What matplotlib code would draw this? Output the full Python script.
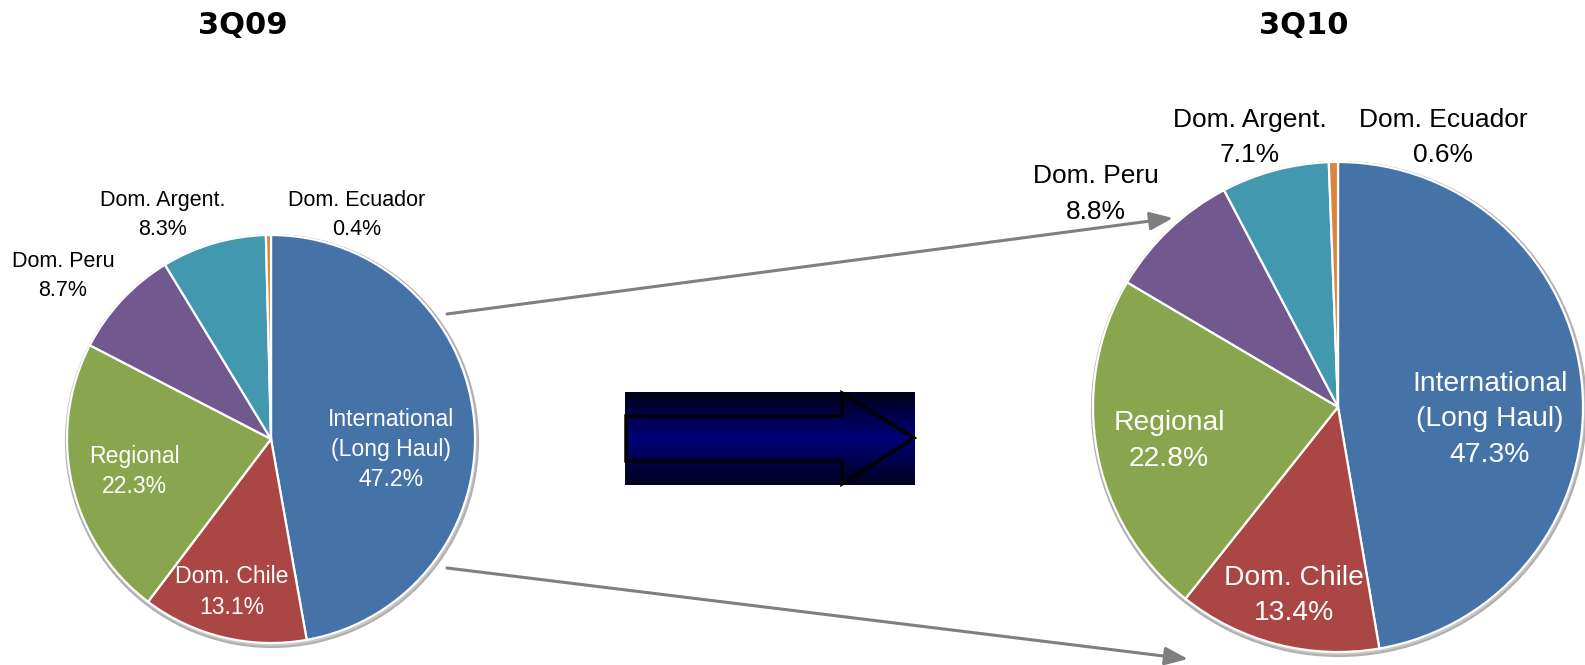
import numpy as np
import matplotlib
matplotlib.use("Agg")
import matplotlib.pyplot as plt
from matplotlib.patches import Circle, Polygon
from matplotlib.colors import LinearSegmentedColormap

# datos
segments = ["International\n(Long Haul)", "Dom. Chile", "Regional",
            "Dom. Peru", "Dom. Argent.", "Dom. Ecuador"]
share_3q09 = [47.2, 13.1, 22.3, 8.7, 8.3, 0.4]
share_3q10 = [47.3, 13.4, 22.8, 8.8, 7.1, 0.6]
titles = ["3Q09", "3Q10"]

COLORS = ["#4572A7", "#AA4643", "#89A54E", "#71588F", "#4198AF", "#DB843D"]
TXT_COLORS = ["white", "white", "white", "black", "black", "black"]

W, H = 1585, 665

# posicion de etiquetas en radios (dx, dy) relativo al centro
LBL_LEFT = [(0.59, -0.05), (-0.19, -0.75), (-0.67, -0.16),
            (-1.02, 0.80), (-0.53, 1.10), (0.42, 1.10)]
LBL_RIGHT = [(0.62, -0.05), (-0.18, -0.77), (-0.69, -0.14),
             (-0.99, 0.87), (-0.36, 1.10), (0.43, 1.10)]


def Y(y):
    return H - y


def draw_pie(ax, values, cx, cy, r, offsets, fs_in, fs_out, ls_in, ls_out):
    # sombra gris
    ax.add_patch(Circle((cx + 1, Y(cy) - 2), r + 2, facecolor="#c8c8c8",
                        edgecolor="#b0b0b0", lw=1.5, zorder=0))
    ax.pie(values, center=(cx, Y(cy)), radius=r, startangle=90,
           counterclock=False, colors=COLORS,
           wedgeprops=dict(edgecolor="white", linewidth=1.6))
    for i, (name, v) in enumerate(zip(segments, values)):
        dx, dy = offsets[i]
        inside = i < 3
        ax.text(cx + dx * r, Y(cy) + dy * r, f"{name}\n{v:.1f}%",
                ha="center", va="center", color=TXT_COLORS[i],
                fontsize=fs_in if inside else fs_out,
                linespacing=ls_in if inside else ls_out,
                family="Liberation Sans", zorder=5)


fig = plt.figure(figsize=(W / 100, H / 100), dpi=100)
ax = fig.add_axes([0, 0, 1, 1])

draw_pie(ax, share_3q09, 271, 439, 204, LBL_LEFT, 16.6, 15.5, 1.4, 1.5)
draw_pie(ax, share_3q10, 1338, 407, 245, LBL_RIGHT, 20.3, 19, 1.48, 1.6)

ax.text(243, Y(25), titles[0], ha="center", va="center",
        fontsize=22, fontweight="bold")
ax.text(1304, Y(25), titles[1], ha="center", va="center",
        fontsize=22, fontweight="bold")

# flechas grises
for (x0, y0), (x1, y1) in [((447, 314), (1173, 218)),
                           ((447, 568), (1188, 659))]:
    ax.annotate("", xy=(x1, Y(y1)), xytext=(x0, Y(y0)),
                arrowprops=dict(arrowstyle="-|>,head_length=1.4,head_width=0.55",
                                color="#7f7f7f", lw=2.2, shrinkA=0, shrinkB=0),
                zorder=6)

# caja central con degradado y flecha
bx0, bx1, by0, by1 = 625, 915, 392, 485
grad = LinearSegmentedColormap.from_list(
    "navy", [(0, 0, 0.10), (0, 0, 0.47), (0, 0, 0.12)])
ax.imshow(np.linspace(0, 1, 100).reshape(-1, 1), cmap=grad, aspect="auto",
          extent=(bx0, bx1, Y(by1), Y(by0)), zorder=2)
arrow = [(626, 416), (842, 416), (842, 393), (914, 438),
         (842, 484), (842, 461), (626, 461)]
ax.add_patch(Polygon([(x, Y(y)) for x, y in arrow], closed=True,
                     fill=False, edgecolor="black", lw=2.5, zorder=3))

ax.set_xlim(0, W)
ax.set_ylim(0, H)
ax.set_aspect("auto")
ax.axis("off")

fig.savefig("out.png", dpi=100, facecolor="white")
